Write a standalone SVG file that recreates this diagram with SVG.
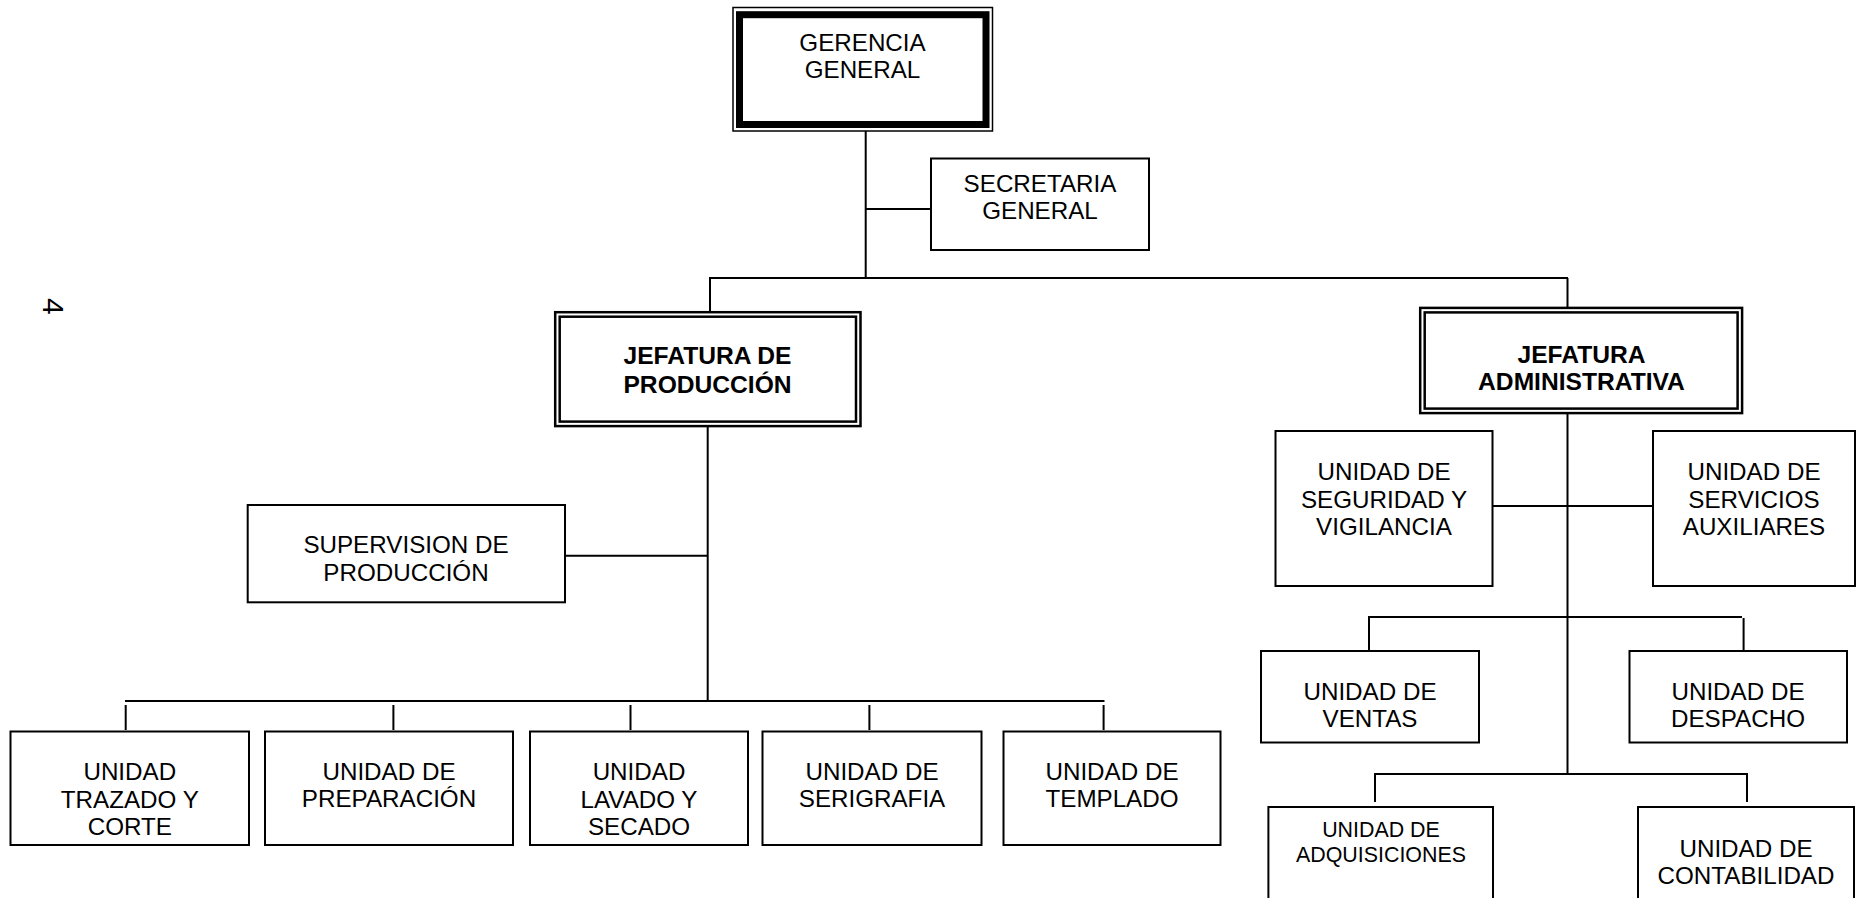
<svg xmlns="http://www.w3.org/2000/svg" width="1857" height="898" viewBox="0 0 1857 898">
<style>
.box{fill:#fff;stroke:#000;stroke-width:2}
.dbl{fill:none;stroke:#000;stroke-width:2.5}
.t{font-family:"Liberation Sans",Arial,sans-serif;font-size:24.2px;fill:#000;text-anchor:middle}
.b{font-weight:bold;font-size:24.6px}
.s{font-size:21.4px}
.c{fill:none;stroke:#000;stroke-width:2}
</style>
<rect width="1857" height="898" fill="#fff"/>
<text class="t" style="text-anchor:start;font-size:30px" transform="translate(43,298) rotate(90)">4</text>
<g id="connectors">
<path class="c" d="M865.7 131 V278 M865.7 209 H930 M709 278 H1568 M710 278 V311 M1567.5 278 V307"/>
<path class="c" d="M707.7 427 V701 M566 555.7 H707.7 M125 701 H1104.5"/>
<path class="c" d="M125.7 705 V730 M393.4 705 V730 M630.5 705 V730 M869.4 705 V730 M1103.6 705 V730"/>
<path class="c" d="M1567.5 414 V774 M1493 506 H1652"/>
<path class="c" d="M1369 650 V617 H1742 M1743.6 618 V650"/>
<path class="c" d="M1375 802 V774 H1747 V802"/>
</g>
<g id="gerencia">
<rect x="733" y="7.5" width="259.5" height="123.5" fill="#fff" stroke="#000" stroke-width="1.5"/>
<rect x="739.5" y="14.7" width="246.5" height="109.8" fill="none" stroke="#000" stroke-width="7"/>
<text class="t" x="862.5" y="51">GERENCIA</text>
<text class="t" x="862.5" y="77.5">GENERAL</text>
</g>
<g id="secretaria">
<rect class="box" x="931" y="158.5" width="218" height="91.5"/>
<text class="t" x="1040" y="191.5">SECRETARIA</text>
<text class="t" x="1040" y="218.5">GENERAL</text>
</g>
<g id="jef-produccion">
<rect class="dbl" x="555.2" y="312.2" width="305.3" height="113.9"/>
<rect class="dbl" x="559.7" y="316.7" width="296.3" height="104.9"/>
<text class="t b" x="707.5" y="364">JEFATURA DE</text>
<text class="t b" x="707.5" y="393">PRODUCCIÓN</text>
</g>
<g id="jef-administrativa">
<rect class="dbl" x="1420.2" y="307.9" width="321.9" height="105.2"/>
<rect class="dbl" x="1424.7" y="312.4" width="312.9" height="96.2"/>
<text class="t b" x="1581.5" y="362.5">JEFATURA</text>
<text class="t b" x="1581.5" y="389.5">ADMINISTRATIVA</text>
</g>
<g id="supervision">
<rect class="box" x="247.7" y="505" width="317.3" height="97.3"/>
<text class="t" x="406" y="553">SUPERVISION DE</text>
<text class="t" x="406" y="580.5">PRODUCCIÓN</text>
</g>
<g id="u-trazado">
<rect class="box" x="10.5" y="731.5" width="238.5" height="113.5"/>
<text class="t" x="129.8" y="780">UNIDAD</text>
<text class="t" x="129.8" y="807.5">TRAZADO Y</text>
<text class="t" x="129.8" y="835">CORTE</text>
</g>
<g id="u-preparacion">
<rect class="box" x="265" y="731.5" width="248" height="113.5"/>
<text class="t" x="389" y="780">UNIDAD DE</text>
<text class="t" x="389" y="807">PREPARACIÓN</text>
</g>
<g id="u-lavado">
<rect class="box" x="530" y="731.5" width="218" height="113.5"/>
<text class="t" x="639" y="780">UNIDAD</text>
<text class="t" x="639" y="807.5">LAVADO Y</text>
<text class="t" x="639" y="835">SECADO</text>
</g>
<g id="u-serigrafia">
<rect class="box" x="762.5" y="731.5" width="219" height="113.5"/>
<text class="t" x="872" y="780">UNIDAD DE</text>
<text class="t" x="872" y="807">SERIGRAFIA</text>
</g>
<g id="u-templado">
<rect class="box" x="1003.5" y="731.5" width="217" height="113.5"/>
<text class="t" x="1112" y="780">UNIDAD DE</text>
<text class="t" x="1112" y="807">TEMPLADO</text>
</g>
<g id="u-seguridad">
<rect class="box" x="1275.5" y="431" width="217" height="155"/>
<text class="t" x="1384" y="480">UNIDAD DE</text>
<text class="t" x="1384" y="507.5">SEGURIDAD Y</text>
<text class="t" x="1384" y="535">VIGILANCIA</text>
</g>
<g id="u-servicios">
<rect class="box" x="1653" y="431" width="202" height="155"/>
<text class="t" x="1754" y="480">UNIDAD DE</text>
<text class="t" x="1754" y="507.5">SERVICIOS</text>
<text class="t" x="1754" y="535">AUXILIARES</text>
</g>
<g id="u-ventas">
<rect class="box" x="1261" y="651" width="218" height="91.5"/>
<text class="t" x="1370" y="700">UNIDAD DE</text>
<text class="t" x="1370" y="727">VENTAS</text>
</g>
<g id="u-despacho">
<rect class="box" x="1629.5" y="651" width="217.5" height="91.5"/>
<text class="t" x="1738" y="700">UNIDAD DE</text>
<text class="t" x="1738" y="727">DESPACHO</text>
</g>
<g id="u-adquisiciones">
<rect class="box" x="1268.4" y="807" width="224.6" height="120"/>
<text class="t s" x="1381" y="837">UNIDAD DE</text>
<text class="t s" x="1381" y="861.5">ADQUISICIONES</text>
</g>
<g id="u-contabilidad">
<rect class="box" x="1638" y="807" width="216" height="120"/>
<text class="t" x="1746" y="857">UNIDAD DE</text>
<text class="t" x="1746" y="884">CONTABILIDAD</text>
</g>
</svg>
